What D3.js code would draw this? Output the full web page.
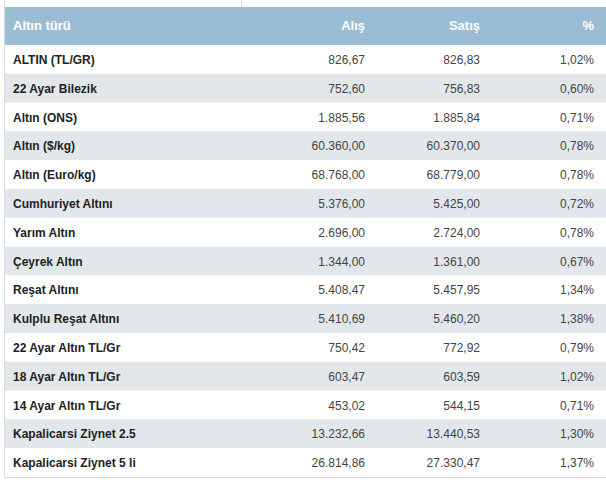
<!DOCTYPE html><html><head><meta charset="utf-8"><script src="https://d3js.org/d3.v7.min.js"></script>
<style>body{margin:0;background:#fff}text{font-family:"Liberation Sans",Arial,sans-serif}</style></head><body>
<svg id="c" width="606" height="480"></svg>
<script>
const headers=["Altın türü","Alış","Satış","%"];
const names=["ALTIN (TL/GR)","22 Ayar Bilezik","Altın (ONS)","Altın ($/kg)","Altın (Euro/kg)","Cumhuriyet Altını","Yarım Altın","Çeyrek Altın","Reşat Altını","Kulplu Reşat Altını","22 Ayar Altın TL/Gr","18 Ayar Altın TL/Gr","14 Ayar Altın TL/Gr","Kapalicarsi Ziynet 2.5","Kapalicarsi Ziynet 5 li"];
const alis=["826,67","752,60","1.885,56","60.360,00","68.768,00","5.376,00","2.696,00","1.344,00","5.408,47","5.410,69","750,42","603,47","453,02","13.232,66","26.814,86"];
const satis=["826,83","756,83","1.885,84","60.370,00","68.779,00","5.425,00","2.724,00","1.361,00","5.457,95","5.460,20","772,92","603,59","544,15","13.440,53","27.330,47"];
const pct=["1,02%","0,60%","0,71%","0,78%","0,78%","0,72%","0,78%","0,67%","1,34%","1,38%","0,79%","1,02%","0,71%","1,30%","1,37%"];
const svg=d3.select("#c");
const y=d3.scaleBand().domain(d3.range(names.length)).range([45,477]);
// borders
svg.append("line").attr("x1",4.5).attr("x2",4.5).attr("y1",0).attr("y2",477).attr("stroke","#ddd");
svg.append("line").attr("x1",241.5).attr("x2",241.5).attr("y1",0).attr("y2",7).attr("stroke","#ddd");
svg.append("rect").attr("x",5).attr("y",7).attr("width",601).attr("height",38).attr("fill","#9bbdd3");
const colX=[13,365,480,594],anch=["start","end","end","end"];
svg.selectAll(".h").data(headers).join("text").attr("x",(d,i)=>colX[i]).attr("y",30).attr("text-anchor",(d,i)=>anch[i])
 .attr("fill","#fff").attr("font-weight","bold").attr("font-size",13).text(d=>d);
const g=svg.selectAll(".r").data(names).join("g").attr("transform",(d,i)=>`translate(0,${y(i)})`);
g.append("rect").attr("x",5).attr("width",601).attr("height",y.bandwidth()).attr("fill",(d,i)=>i%2?"#e1e7eb":"#fff");
g.append("text").attr("x",13).attr("y",19).attr("font-weight","bold").attr("font-size",12).attr("fill","#222").text(d=>d);
[alis,satis,pct].forEach((arr,k)=>g.append("text").attr("x",colX[k+1]).attr("y",19).attr("text-anchor","end").attr("font-size",12).attr("fill","#444").text((d,i)=>arr[i]));
svg.append("line").attr("x1",4).attr("x2",606).attr("y1",477.5).attr("y2",477.5).attr("stroke","#ddd");
</script></body></html>
